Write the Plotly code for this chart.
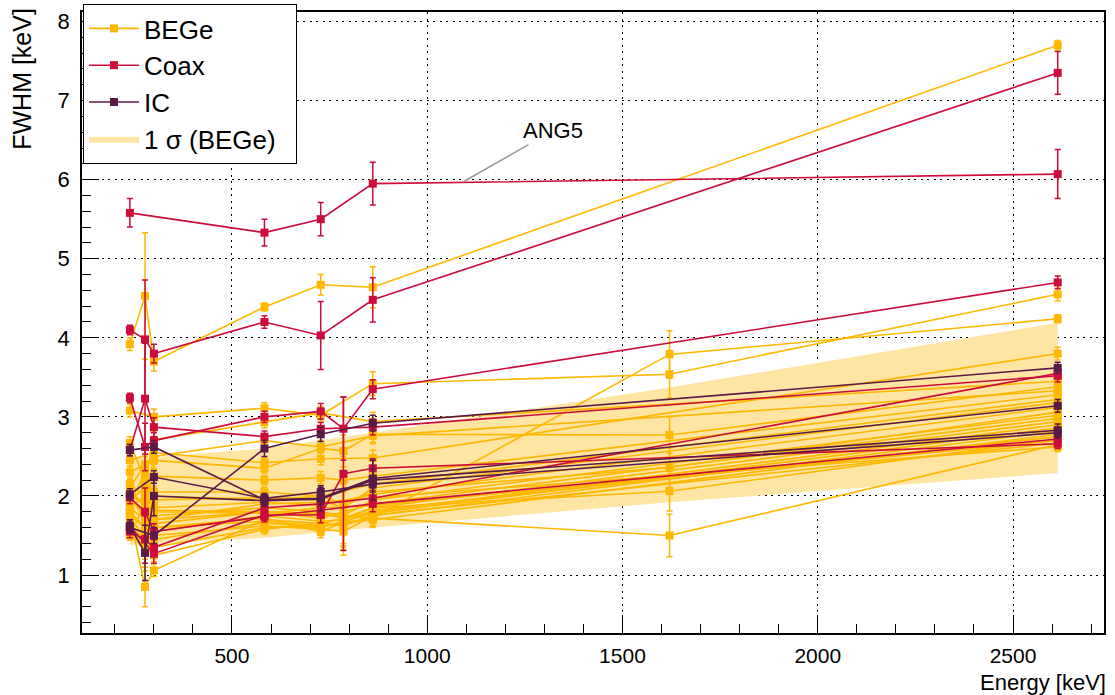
import plotly.graph_objects as go

# Calibration line energies [keV]
energies = [238.6, 277.4, 300.1, 583.2, 727.3, 785.4, 860.6, 1620.5, 2614.5]

# FWHM [keV] per detector (None = no point at that energy)
bege_fwhm = [
    [3.92, 4.53, 3.70, 4.39, 4.67, None, 4.64, None, 7.70],
    [3.08, None, 3.00, 3.11, 3.02, None, 3.42, 3.54, 4.55],
    [2.02, 1.88, 1.82, 1.80, 1.76, None, 1.72, 3.79, 4.24],
    [2.45, None, 2.55, 2.42, 2.47, None, 2.48, None, 3.80],
    [1.85, 1.70, 1.60, 1.68, 1.62, None, 1.72, 1.50, 2.65],
    [2.30, None, 2.45, 2.35, 2.60, 2.57, 2.78, 2.77, 3.38],
    [1.95, 2.10, 2.00, 1.95, 2.00, 1.90, 2.05, 2.36, 3.06],
    [1.75, 1.60, 1.70, 1.80, 1.78, 1.72, 1.85, 2.06, 2.72],
    [2.67, 2.20, 2.71, 2.93, 3.05, None, 2.94, None, 3.45],
    [2.05, 1.90, 2.50, 2.70, 2.62, None, 2.76, None, 3.33],
    [2.15, 2.00, 2.25, 2.20, 2.23, 2.20, 2.25, None, 3.28],
    [1.95, 1.80, 2.05, 2.05, 2.00, None, 2.15, None, 3.22],
    [1.90, 2.30, 1.95, 1.98, 1.95, 1.85, 2.10, None, 3.18],
    [1.80, 1.60, 1.85, 1.92, 1.88, None, 2.02, None, 3.12],
    [1.70, 1.50, 1.75, 1.85, 1.80, 1.75, 1.95, None, 3.02],
    [1.85, 2.00, 1.65, 1.80, 1.72, None, 1.90, None, 2.98],
    [1.60, 1.40, 1.55, 1.75, 1.68, 1.70, 1.85, None, 2.94],
    [1.75, 0.85, 1.06, 1.70, 1.65, None, 1.80, None, 2.90],
    [1.55, 1.30, 1.45, 1.66, 1.60, None, 1.78, None, 2.86],
    [2.00, 1.70, 1.50, 1.62, 1.58, 1.55, 1.75, None, 2.82],
    [1.65, 1.45, 1.35, 1.60, 1.62, None, 1.70, None, 2.78],
    [1.50, 1.90, 1.60, 1.72, 1.55, None, 1.82, None, 2.75],
    [2.10, 2.40, 1.80, 1.78, 1.85, None, 1.88, None, 2.70],
    [1.58, 1.35, 1.25, 1.58, 1.66, 1.62, 1.76, None, 2.67],
    [2.00, 1.75, 1.70, 1.90, 1.92, None, 1.98, None, 2.62],
]
bege_err = [
    [0.08, 0.80, 0.12, 0.05, 0.13, None, 0.26, None, 0.06],
    [0.08, None, 0.10, 0.07, 0.08, None, 0.15, 0.30, 0.08],
    [0.07, 0.30, 0.10, 0.06, 0.08, None, 0.10, 0.30, 0.05],
    [0.07, None, 0.10, 0.06, 0.08, None, 0.10, None, 0.08],
    [0.07, 0.25, 0.10, 0.06, 0.08, None, 0.10, 0.27, 0.06],
    [0.07, None, 0.10, 0.06, 0.10, 0.20, 0.10, 0.23, 0.06],
    [0.06, 0.25, 0.10, 0.06, 0.08, 0.30, 0.10, 0.25, 0.06],
    [0.06, 0.25, 0.10, 0.06, 0.08, 0.35, 0.10, 0.25, 0.06],
    [0.08, 0.30, 0.10, 0.07, 0.08, None, 0.12, None, 0.07],
    [0.07, 0.25, 0.10, 0.06, 0.08, None, 0.10, None, 0.06],
    [0.06, 0.25, 0.08, 0.06, 0.08, 0.30, 0.10, None, 0.06],
    [0.06, 0.25, 0.08, 0.06, 0.08, None, 0.10, None, 0.06],
    [0.06, 0.30, 0.08, 0.06, 0.08, 0.30, 0.10, None, 0.06],
    [0.06, 0.25, 0.08, 0.06, 0.08, None, 0.10, None, 0.06],
    [0.06, 0.25, 0.08, 0.06, 0.08, 0.35, 0.10, None, 0.06],
    [0.06, 0.25, 0.08, 0.06, 0.08, None, 0.10, None, 0.06],
    [0.06, 0.25, 0.08, 0.06, 0.08, 0.35, 0.10, None, 0.06],
    [0.06, 0.25, 0.08, 0.06, 0.08, None, 0.10, None, 0.06],
    [0.06, 0.25, 0.08, 0.06, 0.08, None, 0.10, None, 0.06],
    [0.06, 0.25, 0.08, 0.06, 0.08, 0.30, 0.10, None, 0.06],
    [0.06, 0.25, 0.08, 0.06, 0.08, None, 0.10, None, 0.06],
    [0.06, 0.25, 0.08, 0.06, 0.08, None, 0.10, None, 0.06],
    [0.06, 0.25, 0.08, 0.06, 0.08, None, 0.10, None, 0.06],
    [0.06, 0.25, 0.08, 0.06, 0.08, 0.30, 0.10, None, 0.06],
    [0.06, 0.25, 0.08, 0.06, 0.08, None, 0.10, None, 0.06],
]

coax_fwhm = [
    [5.58, None, None, 5.33, 5.50, None, 5.95, None, 6.07],
    [4.10, 3.98, 3.80, 4.20, 4.03, None, 4.48, None, 7.35],
    [3.24, 2.62, 2.70, 3.00, 3.07, 2.85, 3.35, None, 4.70],
    [2.58, 3.23, 2.87, 2.75, 2.85, None, 2.87, None, 3.52],
    [1.62, None, 1.27, 1.76, 1.76, 2.28, 2.35, None, 2.66],
    [1.55, 1.45, 1.35, 1.85, 1.90, None, 1.97, None, 3.55],
    [1.98, 1.80, 1.55, 1.74, 1.82, None, 1.90, None, 2.72],
]
coax_err = [
    [0.18, None, None, 0.17, 0.21, None, 0.27, None, 0.31],
    [0.06, 0.75, 0.12, 0.08, 0.43, None, 0.28, None, 0.27],
    [0.06, 0.30, 0.10, 0.07, 0.10, 0.40, 0.12, None, 0.08],
    [0.07, 0.70, 0.12, 0.07, 0.08, None, 0.10, None, 0.08],
    [0.08, None, 0.12, 0.07, 0.10, 0.97, 0.12, None, 0.06],
    [0.08, 0.30, 0.10, 0.07, 0.08, None, 0.10, None, 0.07],
    [0.08, 0.30, 0.10, 0.07, 0.08, None, 0.10, None, 0.06],
]

ic_fwhm = [
    [2.58, None, 2.62, 1.95, 1.97, None, 2.22, None, 3.14],
    [1.62, 1.28, 2.00, 1.94, 1.96, None, 2.20, None, 2.83],
    [2.02, None, 2.24, 1.97, 2.05, None, 2.15, None, 2.80],
    [1.60, None, 1.50, 2.60, 2.78, None, 2.92, None, 3.62],
]
ic_err = [
    [0.07, None, 0.08, 0.06, 0.08, None, 0.12, None, 0.08],
    [0.08, 0.35, 0.25, 0.07, 0.15, None, 0.25, None, 0.08],
    [0.07, None, 0.08, 0.06, 0.08, None, 0.10, None, 0.07],
    [0.07, None, 0.10, 0.10, 0.09, None, 0.10, None, 0.07],
]

# 1 sigma band of BEGe detectors
band_energy = [238.6, 583.2, 860.6, 1620.5, 2614.5]
band_low = [1.38, 1.47, 1.60, 1.92, 2.29]
band_high = [2.47, 2.60, 2.80, 3.37, 4.19]

BEGE_COLOR = "#FFB800"
COAX_COLOR = "#CC0C3A"
IC_COLOR = "#5A1A48"
BAND_COLOR = "#FFE5A3"
FONT = "Liberation Sans"

fig = go.Figure()

fig.add_trace(go.Scatter(
    x=band_energy + band_energy[::-1],
    y=band_high + band_low[::-1],
    fill="toself", fillcolor=BAND_COLOR, mode="lines",
    line=dict(width=0, color=BAND_COLOR),
    name="1 \u03c3 (BEGe)\u00a0\u00a0", legendgroup="band", legendrank=4,
    hoverinfo="skip",
))


def add_group(values, errors, color, name, rank):
    for i, (vals, errs) in enumerate(zip(values, errors)):
        xs = [e for e, v in zip(energies, vals) if v is not None]
        ys = [v for v in vals if v is not None]
        es = [er for v, er in zip(vals, errs) if v is not None]
        fig.add_trace(go.Scatter(
            x=xs, y=ys, mode="lines+markers",
            line=dict(color=color, width=1.6),
            marker=dict(symbol="square", size=8, color=color),
            error_y=dict(type="data", array=es, color=color, thickness=1.5, width=3),
            name=name, legendgroup=name, showlegend=(i == 0), legendrank=rank,
        ))


add_group(bege_fwhm, bege_err, BEGE_COLOR, "BEGe", 1)
add_group(coax_fwhm, coax_err, COAX_COLOR, "Coax", 2)
add_group(ic_fwhm, ic_err, IC_COLOR, "IC", 3)

axis_common = dict(
    ticks="inside", tickcolor="black", tickwidth=1,
    showline=True, linecolor="black", linewidth=1.5, mirror=True,
    showgrid=True, gridcolor="black", griddash="2px,4.5px", gridwidth=1,
    zeroline=False,
)

fig.update_layout(
    width=1115, height=695,
    margin=dict(l=82, r=11, t=12, b=62, autoexpand=False),
    paper_bgcolor="white", plot_bgcolor="white",
    font=dict(family=FONT, color="black"),
    xaxis=dict(range=[116, 2733], tick0=0, dtick=500, ticklen=18,
               ticklabelstandoff=3,
               tickfont=dict(size=21, family=FONT, color="black"),
               minor=dict(dtick=100, tick0=0, ticks="inside", ticklen=9,
                          tickcolor="black", showgrid=False),
               **axis_common),
    yaxis=dict(range=[0.267, 8.12], tick0=0, dtick=1, ticklen=17,
               ticklabelstandoff=6,
               tickfont=dict(size=22, family=FONT, color="black"),
               minor=dict(dtick=0.2, tick0=0, ticks="inside", ticklen=9,
                          tickcolor="black", showgrid=False),
               **axis_common),
    legend=dict(x=0.001, y=1.0129, xanchor="left", yanchor="top",
                bgcolor="white", bordercolor="black", borderwidth=1,
                font=dict(size=26, family=FONT, color="black"),
                itemwidth=50, traceorder="grouped", tracegroupgap=0),
    showlegend=True,
    annotations=[
        dict(text="FWHM [keV]", xref="paper", yref="paper", x=0, y=1.01,
             xanchor="center", yanchor="top", xshift=-60, textangle=-90,
             showarrow=False, font=dict(size=25, family=FONT)),
        dict(text="Energy [keV]", xref="paper", yref="paper", x=1, y=0,
             xanchor="right", yanchor="top", yshift=-35, xshift=4,
             showarrow=False, font=dict(size=22, family=FONT)),
        dict(text="ANG5", x=1091.6, y=5.97, ax=1322, ay=6.62,
             axref="x", ayref="y", showarrow=True, arrowhead=0,
             arrowcolor="#999999", arrowwidth=1.5, standoff=0,
             font=dict(size=22, family=FONT)),
    ],
)

fig.write_html("out.html")
